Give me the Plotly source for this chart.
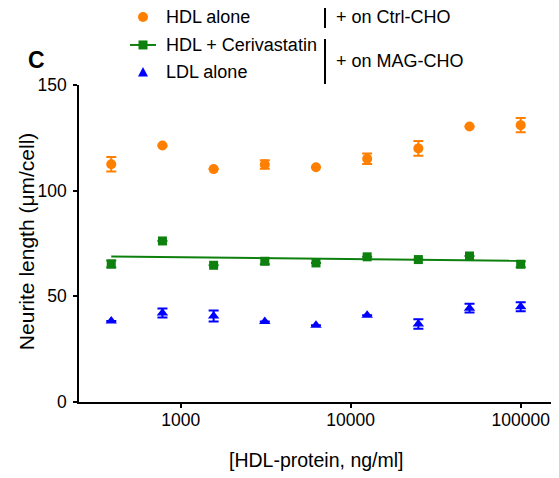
import plotly.graph_objects as go

# ---- data ----
conc = [390.625, 781.25, 1562.5, 3125, 6250, 12500, 25000, 50000, 100000]
hdl_alone = [112.5, 121.4, 110.2, 112.4, 111.1, 115.1, 120.0, 130.4, 131.0]
hdl_alone_err = [3.4, 0, 0, 2.0, 0, 2.5, 3.5, 0, 3.4]
hdl_ceri = [65.3, 76.2, 64.7, 66.6, 65.8, 68.7, 67.4, 69.1, 65.2]
hdl_ceri_err = [1.6, 0, 0, 1.4, 0, 0, 0, 0, 1.4]
ldl_alone = [38.3, 42.1, 40.7, 38.1, 36.3, 41.0, 36.9, 44.4, 45.1]
ldl_alone_err = [0, 2.1, 2.6, 0, 0, 0, 2.2, 2.1, 2.1]
fit_x = [390.625, 100000]
fit_y = [68.9, 66.8]
x_ticks = [1000, 10000, 100000]
x_tick_text = ["1000", "10000", "100000"]
y_ticks = [0, 50, 100, 150]

ORANGE = "#FF8000"
GREEN = "#0E800E"
BLUE = "#0000FF"
FONT = "Liberation Sans, Arial, sans-serif"

# page body has an 8px margin; compensate so the figure lines up with the window
O = 8
W, H = 559 - O, 478 - O
L, T = 79 - O, 85 - O
R = W - (553 - O)
B = H - (401.7 - O)
PW, PH = W - L - R, H - T - B


def px(x):  # window pixel -> paper
    return (x - O - L) / PW


def py(y):  # window pixel -> paper
    return (H - B - (y - O)) / PH


fig = go.Figure()

fig.add_trace(go.Scatter(
    x=fit_x, y=fit_y, mode="lines", line=dict(color=GREEN, width=2),
    showlegend=False, hoverinfo="skip"))

fig.add_trace(go.Scatter(
    x=conc, y=hdl_alone, mode="markers",
    marker=dict(symbol="circle", size=10, color=ORANGE),
    error_y=dict(type="data", array=hdl_alone_err, color=ORANGE, thickness=2, width=5),
    showlegend=False))

fig.add_trace(go.Scatter(
    x=conc, y=hdl_ceri, mode="markers",
    marker=dict(symbol="square", size=9, color=GREEN),
    error_y=dict(type="data", array=hdl_ceri_err, color=GREEN, thickness=2, width=5),
    showlegend=False))

fig.add_trace(go.Scatter(
    x=conc, y=ldl_alone, mode="markers",
    marker=dict(symbol="triangle-up", size=10, color=BLUE),
    error_y=dict(type="data", array=ldl_alone_err, color=BLUE, thickness=2, width=5),
    showlegend=False))

# ---- legend (drawn by hand) ----
cx, cy, r = 143, 17, 5
fig.add_shape(type="circle", xref="paper", yref="paper",
              x0=px(cx - r), x1=px(cx + r), y0=py(cy + r), y1=py(cy - r),
              fillcolor=ORANGE, line=dict(width=0))
fig.add_shape(type="line", xref="paper", yref="paper",
              x0=px(130), x1=px(156), y0=py(45), y1=py(45),
              line=dict(color=GREEN, width=2))
s = 4.5
fig.add_shape(type="rect", xref="paper", yref="paper",
              x0=px(143 - s), x1=px(143 + s), y0=py(45 + s), y1=py(45 - s),
              fillcolor=GREEN, line=dict(width=0))
tx, ty = 143, 72
fig.add_shape(type="path", xref="paper", yref="paper",
              path=f"M {px(tx - 5)} {py(ty + 4.5)} L {px(tx + 5)} {py(ty + 4.5)} L {px(tx)} {py(ty - 5)} Z",
              fillcolor=BLUE, line=dict(width=0))

fig.add_shape(type="line", xref="paper", yref="paper",
              x0=px(325), x1=px(325), y0=py(6), y1=py(28),
              line=dict(color="black", width=2))
fig.add_shape(type="line", xref="paper", yref="paper",
              x0=px(325), x1=px(325), y0=py(39), y1=py(84),
              line=dict(color="black", width=2))

leg_text = [("HDL alone", 164, 17), ("HDL + Cerivastatin", 164, 45), ("LDL alone", 164, 72),
            ("+ on Ctrl-CHO", 334, 17), ("+ on MAG-CHO", 334, 61)]
for txt, x, y in leg_text:
    fig.add_annotation(text=txt, xref="paper", yref="paper", x=px(x), y=py(y),
                       xanchor="left", yanchor="middle", showarrow=False,
                       font=dict(family=FONT, size=18, color="black"))

fig.add_annotation(text="<b>C</b>", xref="paper", yref="paper", x=px(26), y=py(60),
                   xanchor="left", yanchor="middle", showarrow=False,
                   font=dict(family=FONT, size=23, color="black"))

# axis titles
fig.add_annotation(text="Neurite length (μm/cell)", xref="paper", yref="paper",
                   x=px(26), y=py(241), textangle=-90, xanchor="center", yanchor="middle",
                   showarrow=False, font=dict(family=FONT, size=21, color="black"))
fig.add_annotation(text="[HDL-protein, ng/ml]", xref="paper", yref="paper",
                   x=px(316), y=py(460), xanchor="center", yanchor="middle",
                   showarrow=False, font=dict(family=FONT, size=19.5, color="black"))

fig.update_layout(
    width=W, height=H,
    margin=dict(l=L, r=R, t=T, b=B, autoexpand=False),
    paper_bgcolor="white", plot_bgcolor="white",
    font=dict(family=FONT, size=17.5, color="black"),
    xaxis=dict(type="log", range=[2.402, 5.19], tickvals=x_ticks, ticktext=x_tick_text,
               showgrid=False, zeroline=False, showline=True, linecolor="black", linewidth=1.5,
               ticks="outside", ticklen=4, tickwidth=1.5, tickcolor="black", automargin=False,
               ticklabelstandoff=-3),
    yaxis=dict(range=[0, 150], tickvals=y_ticks, showgrid=False, zeroline=False,
               showline=True, linecolor="black", linewidth=1.5,
               ticks="outside", ticklen=4, tickwidth=1.5, tickcolor="black", automargin=False,
               ticklabelstandoff=3),
    showlegend=False,
)

fig.write_html("out.html")
